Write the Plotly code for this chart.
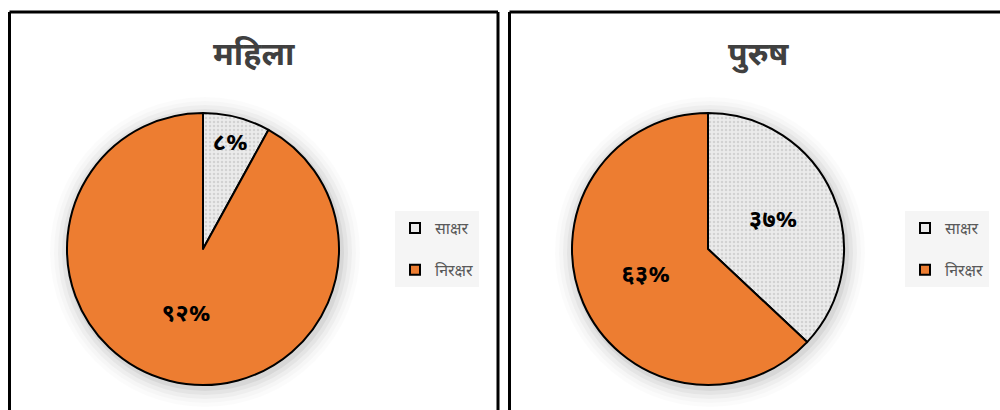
import plotly.graph_objects as go

W, H = 1000, 410

categories = ["साक्षर", "निरक्षर"]
women_values = [8, 92]
men_values = [37, 63]
women_labels = ["८%", "९२%"]
men_labels = ["३७%", "६३%"]
panel_titles = ["महिला", "पुरुष"]

FONT = "Noto Sans Devanagari, Lohit Devanagari, Mangal, Noto Sans, sans-serif"
GRAY = "#ebebeb"
ORANGE = "#ed7d31"
colors = [GRAY, ORANGE]


def px_x(x):
    return x / W


def px_y(y):
    return 1 - y / H


def pie_domain(cx, cy, r):
    return dict(x=[px_x(cx - r), px_x(cx + r)], y=[px_y(cy + r), px_y(cy - r)])


fig = go.Figure()

pies = [
    (women_values, women_labels, 203, 249, "legend"),
    (men_values, men_labels, 708, 249, "legend2"),
]
R = 136

for vals, labs, cx, cy, leg in pies:
    fig.add_trace(go.Pie(
        labels=categories,
        values=vals,
        customdata=labs,
        texttemplate="<b>%{customdata}</b>",
        textposition="inside",
        insidetextorientation="horizontal",
        textfont=dict(family=FONT, size=24, color="black"),
        sort=False,
        direction="clockwise",
        rotation=0,
        marker=dict(
            colors=colors,
            line=dict(color="black", width=2),
            pattern=dict(shape=[".", ""], fgcolor="#d2d2d2", bgcolor=GRAY, size=4, solidity=0.3),
        ),
        domain=pie_domain(cx, cy, R),
        hoverinfo="skip",
        showlegend=False,
    ))
    # legend entries for this panel
    for i, (cat, col) in enumerate(zip(categories, colors)):
        fig.add_trace(go.Scatter(
            x=[None], y=[None], mode="markers", name=cat,
            marker=dict(symbol="square", size=10, color=col, line=dict(color="black", width=2)),
            legend=leg, legendgroup=f"{leg}-{i}", showlegend=True, hoverinfo="skip",
        ))

shapes = []
# soft shadows behind pies
for _, _, cx, cy, _ in pies:
    for i, op in enumerate([0.05, 0.04, 0.03, 0.02, 0.015]):
        rr = R + 3 + i * 4
        shapes.append(dict(
            type="circle", xref="paper", yref="paper", layer="below",
            x0=px_x(cx - rr + 2), x1=px_x(cx + rr + 2),
            y0=px_y(cy + rr + 3), y1=px_y(cy - rr + 3),
            fillcolor=f"rgba(0,0,0,{op})", line=dict(width=0),
        ))

# panel borders
border = dict(color="black", width=3)
for x0, x1, right in [(9.5, 498, True), (509.5, 1005, False)]:
    shapes.append(dict(type="line", xref="paper", yref="paper",
                       x0=px_x(x0), x1=px_x(x0), y0=px_y(12), y1=px_y(415), line=border))
    shapes.append(dict(type="line", xref="paper", yref="paper",
                       x0=px_x(x0), x1=px_x(x1), y0=px_y(12), y1=px_y(12), line=border))
    if right:
        shapes.append(dict(type="line", xref="paper", yref="paper",
                           x0=px_x(x1), x1=px_x(x1), y0=px_y(12), y1=px_y(415), line=border))

annotations = []
for title, cx in zip(panel_titles, [254, 758]):
    annotations.append(dict(
        text=f"<b>{title}</b>", x=px_x(cx), y=px_y(57), xref="paper", yref="paper",
        showarrow=False, xanchor="center", yanchor="middle",
        font=dict(family=FONT, size=32, color="#404040"),
    ))

legend_style = dict(
    bgcolor="#f5f5f5",
    font=dict(family=FONT, size=16, color="#595959"),
    xanchor="left", yanchor="top",
    itemwidth=30,
    tracegroupgap=18,
)

fig.update_layout(
    width=W, height=H,
    margin=dict(l=0, r=0, t=0, b=0),
    paper_bgcolor="white",
    plot_bgcolor="white",
    showlegend=True,
    xaxis=dict(visible=False),
    yaxis=dict(visible=False),
    legend=dict(x=px_x(395), y=px_y(211), **legend_style),
    legend2=dict(x=px_x(905), y=px_y(211), **legend_style),
    shapes=shapes,
    annotations=annotations,
)

fig.write_html(
    "out.html",
    config={"displayModeBar": False},
    post_script="document.body.style.margin='0';document.body.style.padding='0';",
)
